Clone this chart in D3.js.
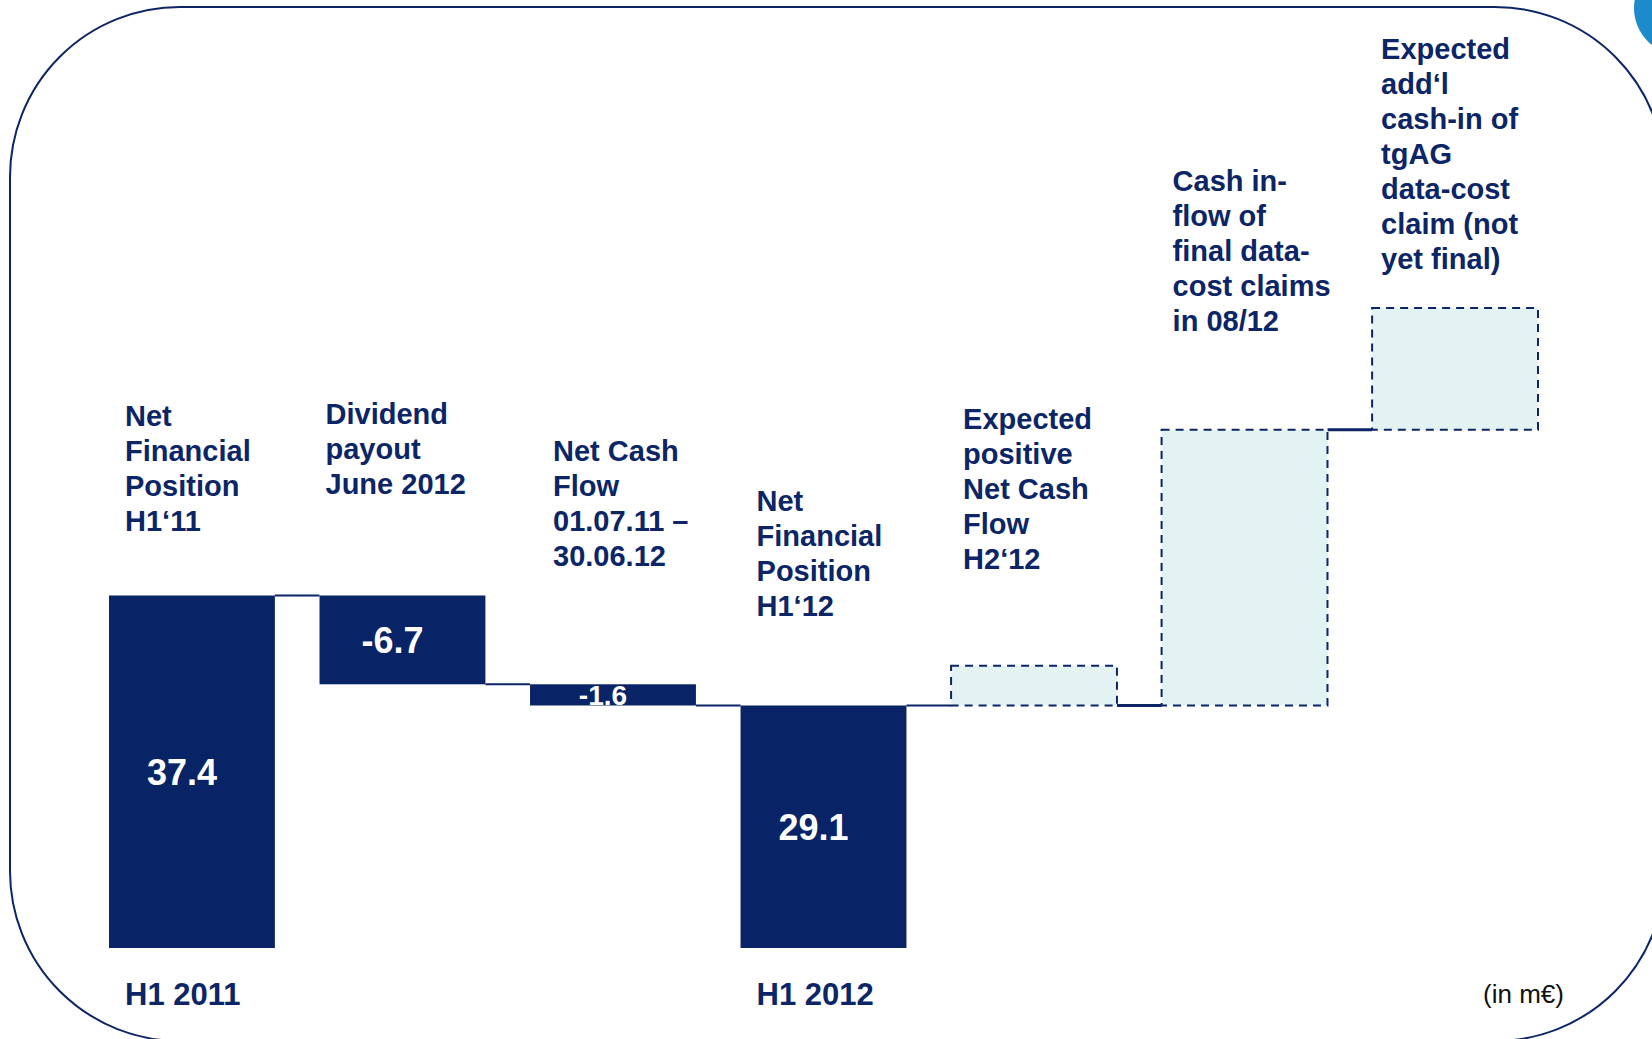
<!DOCTYPE html>
<html>
<head>
<meta charset="utf-8" />
<title>Net Financial Position bridge</title>
<script src="https://d3js.org/d3.v7.min.js"></script>
<style>
  body { margin: 0; background: #fff; }
  svg { display: block; }
  text { font-family: "Liberation Sans", Arial, sans-serif; }
  .cat { font-weight: bold; font-size: 29px; fill: #0b2566; }
  .val { font-weight: bold; fill: #fff; }
  .period { font-weight: bold; font-size: 31px; fill: #0b2566; }
  .unit { font-size: 26px; fill: #111; }
</style>
</head>
<body>
<script>
// bridge steps (in m EUR)
var steps = ["nfp11", "dividend", "ncf", "nfp12", "expNcf", "dataCost", "tgag"];
var kinds = ["total", "delta", "delta", "total", "forecast", "forecast", "forecast"];
var values = [37.4, -6.7, -1.6, 29.1, 3.0, 20.8, 9.2];
// forecast bars 5 and 6 both start from the H1'12 position
var startFrom = [null, null, null, null, 3, 3, 5];
var showValue = [true, true, true, true, false, false, false];
var labels = [
  ["Net", "Financial", "Position", "H1\u201811"],
  ["Dividend", "payout", "June 2012"],
  ["Net Cash", "Flow", "01.07.11 \u2013", "30.06.12"],
  ["Net", "Financial", "Position", "H1\u201812"],
  ["Expected", "positive", "Net Cash", "Flow", "H2\u201812"],
  ["Cash in-", "flow of", "final data-", "cost claims", "in 08/12"],
  ["Expected", "add\u2018l", "cash-in of", "tgAG", "data-cost", "claim (not", "yet final)"]
];
var periods = [["H1 2011", 0], ["H1 2012", 3]];

// layout
var W = 1652, H = 1039;
var labelDx = [16, 6, 23, 16, 12, 11, 9];
var labelGap = [64, 101, 118, 89, 97, 99, 39];
var lineH = 35;

var fmt = d3.formatLocale({decimal: ".", thousands: ",", grouping: [3], currency: ["", ""], minus: "-"}).format(".1f");

var svg = d3.select("body").append("svg")
    .attr("width", W)
    .attr("height", H);

// frame
svg.append("rect")
    .attr("x", 10).attr("y", 7)
    .attr("width", 1655).attr("height", 1034)
    .attr("rx", 170).attr("ry", 170)
    .attr("fill", "none")
    .attr("stroke", "#0b2566")
    .attr("stroke-width", 2);

svg.append("circle")
    .attr("cx", 1681).attr("cy", 8).attr("r", 47)
    .attr("fill", "#1b8bcc");

// compute running positions
var bars = [];
var run = 0;
values.forEach(function(v, i) {
  var lo, hi;
  if (kinds[i] == "total") {
    lo = null; hi = v; run = v;
  } else if (kinds[i] == "delta") {
    lo = run + v; hi = run; run = run + v;
  } else {
    var base = bars[startFrom[i]].hi;
    lo = base; hi = base + v;
  }
  bars.push({i: i, key: steps[i], kind: kinds[i], v: v, lo: lo, hi: hi});
});

var x = d3.scaleBand()
    .domain(steps)
    .range([109, 1538])
    .paddingInner(0.212)
    .paddingOuter(0);

// axis floor is cut (bars start at 10.8)
var y = d3.scaleLinear()
    .domain([10.8, 60])
    .range([948, 296]);

function bottomOf(d) { return d.lo == null ? y.range()[0] : y(d.lo); }

// connectors
var links = [];
for (var k = 0; k < bars.length - 1; k++) {
  var a = bars[k], b = bars[k + 1];
  var level = b.kind == "forecast" ? b.lo : b.hi;
  links.push({x1: x(a.key) + x.bandwidth(), x2: x(b.key), y: y(level), thick: b.kind == "forecast" && a.kind == "forecast"});
}
svg.selectAll(".link")
  .data(links)
  .enter().append("line")
    .attr("class", "link")
    .attr("x1", function(d) { return d.x1; })
    .attr("x2", function(d) { return d.x2; })
    .attr("y1", function(d) { return d.y; })
    .attr("y2", function(d) { return d.y; })
    .attr("stroke", "#0b2566")
    .attr("stroke-width", function(d) { return d.thick ? 3 : 2; });

svg.selectAll(".bar")
  .data(bars)
  .enter().append("rect")
    .attr("class", "bar")
    .attr("x", function(d) { return x(d.key); })
    .attr("y", function(d) { return y(d.hi); })
    .attr("width", x.bandwidth())
    .attr("height", function(d) { return bottomOf(d) - y(d.hi); })
    .attr("fill", function(d) { return d.kind == "forecast" ? "#e3f3f4" : "#082366"; })
    .attr("stroke", function(d) { return d.kind == "forecast" ? "#0b2566" : "none"; })
    .attr("stroke-width", 2)
    .attr("stroke-dasharray", function(d) { return d.kind == "forecast" ? "8,6" : null; });

// value labels, shrunk to fit when a bar is thin
svg.selectAll(".val")
  .data(bars.filter(function(d) { return showValue[d.i]; }))
  .enter().append("text")
    .attr("class", "val")
    .attr("x", function(d) { return x(d.key) + x.bandwidth() / 2 - 10; })
    .attr("y", function(d) { return (y(d.hi) + bottomOf(d)) / 2; })
    .attr("dy", "0.36em")
    .attr("text-anchor", "middle")
    .style("font-size", function(d) {
      var h = bottomOf(d) - y(d.hi);
      return Math.min(36, (h - 1) / 0.72) + "px";
    })
    .text(function(d) { return fmt(d.v); });

// category labels
svg.selectAll(".cat")
  .data(bars)
  .enter().append("text")
    .attr("class", "cat")
    .each(function(d) {
      var lines = labels[d.i];
      var last = y(d.hi) - labelGap[d.i];
      var first = last - (lines.length - 1) * lineH;
      d3.select(this).selectAll("tspan")
        .data(lines)
        .enter().append("tspan")
          .attr("x", x(d.key) + labelDx[d.i])
          .attr("y", function(t, j) { return first + j * lineH; })
          .text(function(t) { return t; });
    });

svg.selectAll(".period")
  .data(periods)
  .enter().append("text")
    .attr("class", "period")
    .attr("x", function(d) { return x(steps[d[1]]) + 16; })
    .attr("y", 1005)
    .text(function(d) { return d[0]; });

svg.append("text")
    .attr("class", "unit")
    .attr("x", 1564)
    .attr("y", 1003)
    .attr("text-anchor", "end")
    .text("(in m\u20ac)");
</script>
</body>
</html>
